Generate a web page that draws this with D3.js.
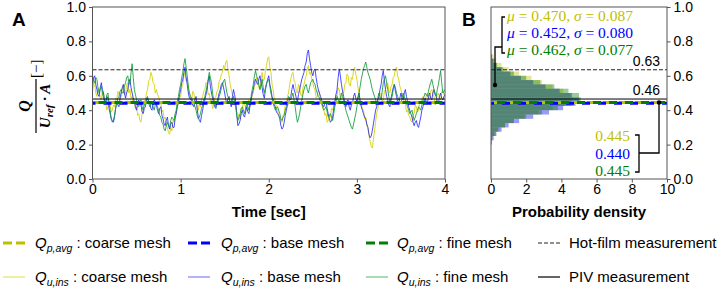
<!DOCTYPE html>
<html>
<head>
<meta charset="utf-8">
<script src="https://cdn.jsdelivr.net/npm/d3@7"></script>
<style>
  body { margin: 0; background: #fff; }
  text { font-family: "Liberation Sans", Arial, sans-serif; fill: #000; }
  .serif { font-family: "Liberation Serif", "DejaVu Serif", serif; }
</style>
</head>
<body>
<svg id="chart" width="726" height="289"></svg>
<script>
// ---- data ----
const sampleStep = 0.0125; // seconds between samples

const yellowIns = [
  0.50,0.56,0.55,0.50,0.48,0.53,0.52,0.47,0.46,0.51,0.50,0.46,0.45,0.40,0.42,0.45,0.44,0.39,0.40,0.43,
  0.42,0.47,0.46,0.51,0.50,0.46,0.48,0.53,0.54,0.49,0.50,0.55,0.56,0.50,0.52,0.47,0.48,0.44,0.45,0.41,
  0.42,0.37,0.38,0.34,0.33,0.38,0.40,0.45,0.46,0.50,0.52,0.57,0.58,0.62,0.60,0.56,0.55,0.50,0.52,0.49,
  0.48,0.45,0.44,0.39,0.40,0.35,0.36,0.31,0.30,0.27,0.26,0.30,0.28,0.34,0.33,0.37,0.38,0.42,0.44,0.47,
  0.48,0.53,0.55,0.60,0.62,0.57,0.58,0.52,0.50,0.47,0.46,0.51,0.50,0.44,0.45,0.41,0.40,0.44,0.42,0.46,
  0.48,0.51,0.52,0.56,0.55,0.49,0.50,0.45,0.46,0.41,0.42,0.47,0.48,0.51,0.52,0.57,0.58,0.61,0.62,0.66,
  0.64,0.68,0.69,0.63,0.60,0.55,0.52,0.49,0.48,0.43,0.44,0.39,0.38,0.36,0.35,0.41,0.40,0.45,0.44,0.41,
  0.40,0.45,0.46,0.42,0.44,0.49,0.50,0.54,0.55,0.59,0.58,0.53,0.52,0.58,0.62,0.57,0.58,0.63,0.66,0.70,
  0.71,0.65,0.62,0.55,0.52,0.47,0.45,0.41,0.40,0.37,0.36,0.34,0.33,0.37,0.38,0.43,0.44,0.48,0.50,0.55,
  0.58,0.61,0.62,0.57,0.56,0.51,0.50,0.55,0.54,0.49,0.48,0.53,0.55,0.58,0.60,0.64,0.66,0.61,0.62,0.58,
  0.56,0.53,0.52,0.47,0.48,0.52,0.50,0.45,0.44,0.41,0.40,0.37,0.38,0.33,0.34,0.37,0.36,0.41,0.40,0.43,
  0.44,0.49,0.48,0.53,0.52,0.47,0.46,0.51,0.50,0.55,0.56,0.61,0.60,0.55,0.54,0.59,0.58,0.63,0.65,0.61,
  0.58,0.53,0.50,0.45,0.44,0.41,0.40,0.35,0.36,0.31,0.30,0.25,0.22,0.19,0.18,0.23,0.28,0.33,0.38,0.41,
  0.44,0.49,0.50,0.45,0.46,0.51,0.52,0.55,0.56,0.51,0.50,0.54,0.55,0.59,0.60,0.64,0.65,0.60,0.58,0.54,
  0.52,0.49,0.48,0.45,0.44,0.39,0.40,0.37,0.36,0.34,0.33,0.37,0.38,0.43,0.42,0.39,0.40,0.45,0.44,0.47,
  0.48,0.44,0.45,0.49,0.50,0.47,0.46,0.51,0.52,0.49,0.48,0.43,0.44,0.49,0.50,0.47,0.46,0.51,0.52,0.49,0.50
];
const blueIns = [
  0.55,0.59,0.60,0.55,0.52,0.49,0.48,0.53,0.56,0.52,0.50,0.45,0.44,0.48,0.47,0.41,0.38,0.35,0.34,0.33,
  0.36,0.41,0.45,0.43,0.42,0.47,0.50,0.53,0.55,0.50,0.47,0.50,0.52,0.56,0.58,0.53,0.50,0.47,0.45,0.42,
  0.40,0.44,0.46,0.44,0.43,0.39,0.38,0.41,0.42,0.46,0.47,0.45,0.44,0.41,0.40,0.44,0.46,0.45,0.43,0.40,
  0.38,0.41,0.42,0.37,0.35,0.32,0.31,0.34,0.36,0.31,0.29,0.32,0.33,0.30,0.30,0.35,0.38,0.42,0.45,0.49,
  0.52,0.56,0.58,0.62,0.65,0.59,0.55,0.50,0.47,0.47,0.45,0.43,0.42,0.46,0.48,0.41,0.36,0.34,0.33,0.37,
  0.40,0.44,0.46,0.49,0.52,0.57,0.60,0.54,0.50,0.47,0.44,0.42,0.41,0.45,0.47,0.50,0.52,0.55,0.56,0.53,
  0.50,0.46,0.44,0.47,0.48,0.44,0.42,0.48,0.52,0.49,0.45,0.37,0.31,0.32,0.34,0.38,0.40,0.37,0.36,0.39,
  0.42,0.39,0.38,0.43,0.46,0.50,0.52,0.56,0.58,0.56,0.55,0.58,0.60,0.56,0.53,0.49,0.47,0.52,0.55,0.58,
  0.60,0.55,0.52,0.48,0.46,0.43,0.42,0.39,0.38,0.37,0.35,0.31,0.29,0.30,0.33,0.37,0.40,0.43,0.44,0.47,
  0.48,0.52,0.55,0.52,0.50,0.47,0.45,0.49,0.52,0.55,0.58,0.60,0.62,0.66,0.68,0.73,0.75,0.70,0.66,0.62,
  0.60,0.63,0.64,0.59,0.55,0.52,0.50,0.48,0.46,0.43,0.42,0.44,0.45,0.41,0.38,0.35,0.33,0.34,0.36,0.41,
  0.45,0.49,0.52,0.59,0.64,0.60,0.55,0.51,0.48,0.44,0.42,0.45,0.46,0.42,0.40,0.43,0.44,0.48,0.50,0.47,
  0.45,0.48,0.50,0.45,0.42,0.40,0.38,0.36,0.35,0.32,0.30,0.26,0.24,0.25,0.28,0.32,0.36,0.40,0.42,0.46,
  0.48,0.52,0.55,0.60,0.63,0.57,0.52,0.48,0.46,0.43,0.42,0.47,0.50,0.53,0.55,0.51,0.48,0.45,0.44,0.47,
  0.50,0.47,0.46,0.50,0.52,0.48,0.45,0.42,0.40,0.38,0.36,0.33,0.31,0.33,0.34,0.31,0.30,0.33,0.36,0.40,
  0.42,0.45,0.47,0.45,0.44,0.48,0.50,0.47,0.46,0.50,0.52,0.49,0.48,0.45,0.44,0.48,0.50,0.47,0.46,0.48,0.49
];
const greenIns = [
  0.60,0.57,0.56,0.59,0.58,0.53,0.50,0.52,0.54,0.50,0.47,0.45,0.45,0.49,0.50,0.44,0.40,0.35,0.33,0.34,
  0.37,0.41,0.44,0.47,0.48,0.51,0.52,0.50,0.50,0.54,0.56,0.59,0.60,0.56,0.55,0.62,0.67,0.59,0.52,0.49,
  0.46,0.43,0.42,0.45,0.46,0.42,0.40,0.43,0.44,0.47,0.48,0.44,0.42,0.44,0.45,0.42,0.40,0.43,0.44,0.42,
  0.40,0.37,0.36,0.33,0.32,0.29,0.28,0.31,0.33,0.31,0.30,0.34,0.36,0.35,0.34,0.38,0.40,0.45,0.48,0.52,
  0.55,0.59,0.62,0.67,0.70,0.65,0.60,0.54,0.50,0.48,0.47,0.45,0.44,0.42,0.40,0.37,0.35,0.36,0.38,0.41,
  0.43,0.46,0.48,0.51,0.54,0.58,0.62,0.59,0.56,0.50,0.46,0.44,0.42,0.44,0.45,0.48,0.50,0.53,0.55,0.57,
  0.58,0.54,0.50,0.48,0.46,0.45,0.44,0.47,0.48,0.45,0.42,0.37,0.34,0.36,0.38,0.41,0.42,0.40,0.38,0.41,
  0.44,0.42,0.40,0.44,0.48,0.52,0.55,0.60,0.63,0.60,0.58,0.55,0.52,0.55,0.58,0.53,0.50,0.53,0.56,0.57,
  0.58,0.54,0.50,0.47,0.44,0.42,0.40,0.41,0.42,0.40,0.38,0.35,0.34,0.36,0.37,0.40,0.42,0.45,0.48,0.47,
  0.46,0.48,0.50,0.46,0.42,0.37,0.33,0.35,0.38,0.42,0.46,0.49,0.52,0.54,0.55,0.52,0.50,0.53,0.56,0.57,
  0.58,0.56,0.55,0.52,0.50,0.48,0.47,0.45,0.44,0.42,0.40,0.41,0.42,0.39,0.36,0.37,0.38,0.36,0.34,0.38,
  0.42,0.45,0.48,0.46,0.44,0.47,0.50,0.48,0.46,0.43,0.40,0.38,0.36,0.34,0.32,0.30,0.29,0.32,0.35,0.38,
  0.42,0.46,0.50,0.54,0.58,0.61,0.64,0.66,0.68,0.65,0.62,0.60,0.58,0.55,0.52,0.50,0.48,0.46,0.44,0.47,
  0.50,0.48,0.46,0.51,0.56,0.58,0.60,0.56,0.52,0.48,0.44,0.46,0.48,0.52,0.55,0.53,0.50,0.48,0.46,0.45,
  0.44,0.47,0.50,0.48,0.46,0.44,0.42,0.40,0.38,0.39,0.40,0.37,0.34,0.36,0.38,0.40,0.42,0.41,0.40,0.43,
  0.46,0.48,0.50,0.49,0.48,0.51,0.54,0.56,0.58,0.55,0.52,0.50,0.48,0.52,0.55,0.59,0.63,0.56,0.50,0.51,0.52
];

// histogram bins (lower edges, width 0.025) and densities
const binEdges = [0.200,0.225,0.250,0.275,0.300,0.325,0.350,0.375,0.400,0.425,0.450,
                  0.475,0.500,0.525,0.550,0.575,0.600,0.625,0.650,0.675,0.700,0.725,0.750];
const yellowDensity = [0.05,0.10,0.30,0.50,0.80,1.30,1.90,2.70,3.50,4.20,4.60,4.50,4.10,3.50,2.90,2.30,1.60,1.00,0.60,0.30,0.15,0.05];
const blueDensity   = [0.05,0.15,0.30,0.60,1.00,1.60,2.40,3.30,4.10,4.80,5.00,4.60,3.90,3.10,2.40,1.70,1.10,0.60,0.30,0.15,0.05,0.00];
const greenDensity  = [0.00,0.05,0.20,0.40,0.80,1.30,2.00,2.90,3.80,4.60,5.10,5.00,4.40,3.60,2.80,2.00,1.30,0.70,0.35,0.15,0.05,0.00];

const meshNames = ["coarse mesh", "base mesh", "fine mesh"];
const pAvg = [0.445, 0.440, 0.445];
const statMu = [0.470, 0.452, 0.462];
const statSigma = [0.087, 0.080, 0.077];
const hotFilm = 0.635;
const piv = 0.465;
const hotFilmLabel = "0.63";
const pivLabel = "0.46";

const yTicks = [0, 0.2, 0.4, 0.6, 0.8, 1.0];
const timeTicks = [0, 1, 2, 3, 4];
const densityTicks = [0, 2, 4, 6, 8, 10];

// ---- styles ----
const avgColors = ["#bfbf00", "#0000ff", "#008000"];
const insColors = ["#d4d000", "#2a2aff", "#0f9a3a"];
const histColors = ["#bfbf00", "#0000ff", "#008000"];
const spine = "#555";

const svg = d3.select("#chart");

const y = d3.scaleLinear().domain([0, 1]).range([179, 7]);
const xA = d3.scaleLinear().domain([0, 4]).range([92.5, 445]);
const xB = d3.scaleLinear().domain([0, 10]).range([491, 667]);

svg.append("defs").append("clipPath").attr("id", "clipA")
  .append("rect").attr("x", xA(0)).attr("y", y(1)).attr("width", xA(4) - xA(0)).attr("height", y(0) - y(1));

// ---- panel A ----
const gA = svg.append("g");
const series = [yellowIns, blueIns, greenIns];
const lineA = d3.line().x((d, i) => xA(i * sampleStep)).y(d => y(d));
const plotA = gA.append("g").attr("clip-path", "url(#clipA)");
series.forEach((s, k) => {
  plotA.append("path").datum(s)
    .attr("d", lineA)
    .attr("fill", "none")
    .attr("stroke", insColors[k])
    .attr("stroke-opacity", 0.85)
    .attr("stroke-width", 1)
    .attr("stroke-linejoin", "round");
});

const avgOffsets = [0, 5, 10];
function drawRefLines(g, x, x0, x1) {
  pAvg.forEach((v, k) => {
    g.append("line")
      .attr("x1", x(x0)).attr("x2", x(x1))
      .attr("y1", y(v)).attr("y2", y(v))
      .attr("stroke", avgColors[k]).attr("stroke-width", 3)
      .attr("stroke-dasharray", "8,8").attr("stroke-dashoffset", avgOffsets[k]);
  });
  g.append("line")
    .attr("x1", x(x0)).attr("x2", x(x1))
    .attr("y1", y(hotFilm)).attr("y2", y(hotFilm))
    .attr("stroke", "#222").attr("stroke-width", 1)
    .attr("stroke-dasharray", "4,2");
  g.append("line")
    .attr("x1", x(x0)).attr("x2", x(x1))
    .attr("y1", y(piv)).attr("y2", y(piv))
    .attr("stroke", "#000").attr("stroke-width", 1);
}
drawRefLines(plotA, xA, 0, 4);

gA.append("rect")
  .attr("x", xA(0)).attr("y", y(1)).attr("width", xA(4) - xA(0)).attr("height", y(0) - y(1))
  .attr("fill", "none").attr("stroke", spine).attr("stroke-width", 1);

function styleAxis(g) {
  g.select(".domain").remove();
  g.selectAll(".tick line").attr("stroke", spine);
  g.selectAll(".tick text").attr("font-size", 14).attr("fill", "#111")
    .style("font-family", "'Liberation Sans', Arial, sans-serif");
}

gA.append("g").attr("transform", `translate(${xA(0)},0)`)
  .call(d3.axisLeft(y).tickValues(yTicks).tickFormat(d3.format(".1f")).tickSize(3.5).tickPadding(3))
  .call(styleAxis);
gA.append("g").attr("transform", `translate(0,${y(0)})`)
  .call(d3.axisBottom(xA).tickValues(timeTicks).tickFormat(d3.format("d")).tickSize(3.5).tickPadding(2))
  .call(styleAxis);

gA.append("text")
  .attr("x", (xA(0) + xA(4)) / 2).attr("y", 217)
  .attr("text-anchor", "middle").attr("font-size", 15).attr("font-weight", "bold")
  .text("Time [sec]");

gA.append("text").attr("x", 12).attr("y", 26)
  .attr("font-size", 19).attr("font-weight", "bold").text("A");

// y label: Q / (U_ref · A) [−]
const yl = svg.append("g").attr("transform", "translate(36,106) rotate(-90)");
yl.append("text").attr("class", "serif").attr("x", 0).attr("y", -6)
  .attr("text-anchor", "middle").attr("font-size", 16)
  .attr("font-weight", "bold").attr("font-style", "italic").text("Q");
yl.append("line").attr("x1", -27).attr("x2", 27).attr("y1", 0).attr("y2", 0)
  .attr("stroke", "#000").attr("stroke-width", 1.2);
const den = yl.append("text").attr("class", "serif").attr("x", 0).attr("y", 14)
  .attr("text-anchor", "middle").attr("font-size", 15)
  .attr("font-weight", "bold").attr("font-style", "italic");
den.append("tspan").text("U");
den.append("tspan").attr("font-size", 11).attr("dy", 3).text("ref");
den.append("tspan").attr("dy", -3).text(" \u00b7 A");
yl.append("text").attr("class", "serif").attr("x", 28).attr("y", 5)
  .attr("font-size", 15).text("[\u2212]");

// ---- panel B ----
const gB = svg.append("g");
[yellowDensity, blueDensity, greenDensity].forEach((dens, k) => {
  gB.append("g").selectAll("rect").data(dens).join("rect")
    .attr("x", xB(0))
    .attr("y", (d, i) => y(binEdges[i + 1]))
    .attr("width", d => xB(d) - xB(0))
    .attr("height", (d, i) => y(binEdges[i]) - y(binEdges[i + 1]))
    .attr("fill", histColors[k]).attr("fill-opacity", 0.4);
});
drawRefLines(gB, xB, 0, 10);

gB.append("rect")
  .attr("x", xB(0)).attr("y", y(1)).attr("width", xB(10) - xB(0)).attr("height", y(0) - y(1))
  .attr("fill", "none").attr("stroke", spine).attr("stroke-width", 1);

gB.append("g").attr("transform", `translate(${xB(10)},0)`)
  .call(d3.axisRight(y).tickValues(yTicks).tickFormat(d3.format(".1f")).tickSize(3.5).tickPadding(3))
  .call(styleAxis);
gB.append("g").attr("transform", `translate(0,${y(0)})`)
  .call(d3.axisBottom(xB).tickValues(densityTicks).tickFormat(d3.format("d")).tickSize(3.5).tickPadding(2))
  .call(styleAxis);

gB.append("text")
  .attr("x", (xB(0) + xB(10)) / 2).attr("y", 217)
  .attr("text-anchor", "middle").attr("font-size", 15).attr("font-weight", "bold")
  .text("Probability density");

gB.append("text").attr("x", 462).attr("y", 26)
  .attr("font-size", 19).attr("font-weight", "bold").text("B");

gB.append("text").attr("x", 660).attr("y", y(hotFilm) - 4)
  .attr("text-anchor", "end").attr("font-size", 14).text(hotFilmLabel);
gB.append("text").attr("x", 660).attr("y", y(piv) - 4)
  .attr("text-anchor", "end").attr("font-size", 14).text(pivLabel);

// stats block (top-left)
const statRows = [21, 38, 55];
statMu.forEach((m, k) => {
  const t = gB.append("text").attr("class", "serif").attr("x", 507).attr("y", statRows[k])
    .attr("font-size", 15.5).style("fill", avgColors[k]);
  t.append("tspan").attr("font-style", "italic").text("\u03bc");
  t.append("tspan").text(` = ${m.toFixed(3)}, `);
  t.append("tspan").attr("font-style", "italic").text("\u03c3");
  t.append("tspan").text(` = ${statSigma[k].toFixed(3)}`);
});
const ann = gB.append("g").attr("fill", "none").attr("stroke", "#000").attr("stroke-width", 1.3);
ann.append("path").attr("d", `M505,17 H502 V53 H505`);
ann.append("path").attr("d", `M502,47 H495 V${85}`);
gB.append("circle").attr("cx", 495).attr("cy", 85).attr("r", 2.2).attr("fill", "#000");

// p_avg block (bottom-right)
const avgRows = [141, 158.5, 176];
pAvg.forEach((v, k) => {
  gB.append("text").attr("class", "serif").attr("x", 630).attr("y", avgRows[k])
    .attr("text-anchor", "end").attr("font-size", 15.5).style("fill", avgColors[k])
    .text(v.toFixed(3));
});
ann.append("path").attr("d", `M635,135 H639 V172 H635`);
ann.append("path").attr("d", `M639,153 H659 V${y(pAvg[0])}`);
gB.append("circle").attr("cx", 659).attr("cy", y(pAvg[0])).attr("r", 2.2).attr("fill", "#000");

// ---- legend ----
const legendCols = [
  { sx: 3, tx: 35 },
  { sx: 188, tx: 221 },
  { sx: 366, tx: 397 }
];
const rowY = [243, 277];
meshNames.forEach((name, k) => {
  const c = legendCols[k];
  // row 1: p_avg dashed
  svg.append("line").attr("x1", c.sx).attr("x2", c.sx + 22).attr("y1", rowY[0]).attr("y2", rowY[0])
    .attr("stroke", avgColors[k]).attr("stroke-width", 3).attr("stroke-dasharray", "9,4");
  const t1 = svg.append("text").attr("x", c.tx).attr("y", rowY[0] + 5).attr("font-size", 15);
  t1.append("tspan").attr("font-style", "italic").text("Q");
  t1.append("tspan").attr("font-style", "italic").attr("font-size", 10.5).attr("dy", 4).text("p,avg");
  t1.append("tspan").attr("dy", -4).text(` : ${name}`);
  // row 2: u_ins thin line
  svg.append("line").attr("x1", c.sx).attr("x2", c.sx + 22).attr("y1", rowY[1]).attr("y2", rowY[1])
    .attr("stroke", insColors[k]).attr("stroke-opacity", 0.6).attr("stroke-width", 1.2);
  const t2 = svg.append("text").attr("x", c.tx).attr("y", rowY[1] + 5).attr("font-size", 15);
  t2.append("tspan").attr("font-style", "italic").text("Q");
  t2.append("tspan").attr("font-style", "italic").attr("font-size", 10.5).attr("dy", 4).text("u,ins");
  t2.append("tspan").attr("dy", -4).text(` : ${name}`);
});
svg.append("line").attr("x1", 538).attr("x2", 560).attr("y1", rowY[0]).attr("y2", rowY[0])
  .attr("stroke", "#222").attr("stroke-width", 1).attr("stroke-dasharray", "4,2");
svg.append("text").attr("x", 569).attr("y", rowY[0] + 5).attr("font-size", 15).text("Hot-film measurement");
svg.append("line").attr("x1", 538).attr("x2", 560).attr("y1", rowY[1]).attr("y2", rowY[1])
  .attr("stroke", "#000").attr("stroke-width", 1.2);
svg.append("text").attr("x", 569).attr("y", rowY[1] + 5).attr("font-size", 15).text("PIV measurement");
</script>
</body>
</html>
